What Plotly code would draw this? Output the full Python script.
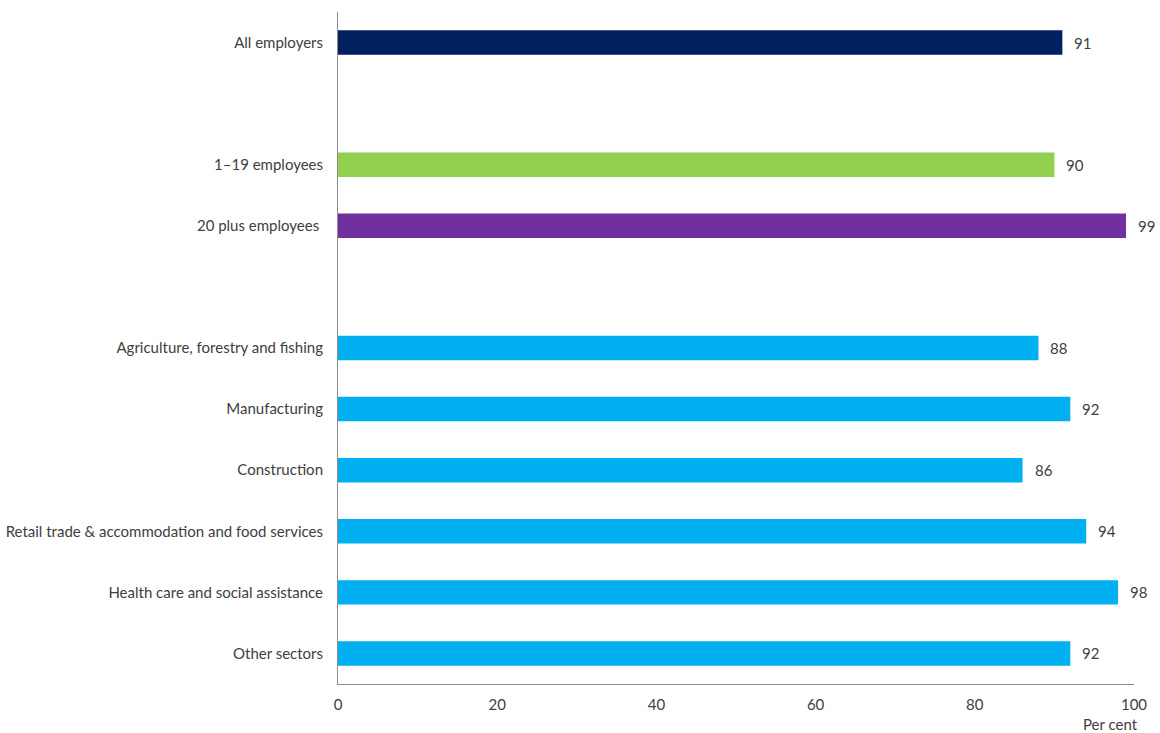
import plotly.graph_objects as go

# Categories in display order (top to bottom); empty strings are spacer rows between groups
categories = [
    "All employers",
    "",
    "1–19 employees",
    "20 plus employees ",
    "",
    "Agriculture, forestry and fishing",
    "Manufacturing",
    "Construction",
    "Retail trade & accommodation and food services",
    "Health care and social assistance",
    "Other sectors",
]
values = [91, None, 90, 99, None, 88, 92, 86, 94, 98, 92]
colors = ["#002060", "#FFFFFF", "#92D050", "#7030A0", "#FFFFFF",
          "#00B0F0", "#00B0F0", "#00B0F0", "#00B0F0", "#00B0F0", "#00B0F0"]
x_ticks = [0, 20, 40, 60, 80, 100]

FONT = "Lato, 'Open Sans', sans-serif"
TEXT = "#404040"
SIZE = 15

positions = list(range(len(categories)))
bar_pos = [p for p, v in zip(positions, values) if v is not None]
bar_val = [v for v in values if v is not None]
bar_col = [c for c, v in zip(colors, values) if v is not None]

fig = go.Figure(
    go.Bar(
        x=bar_val,
        y=bar_pos,
        orientation="h",
        marker=dict(color=bar_col, line=dict(width=0)),
        width=0.4,
        hoverinfo="skip",
    )
)

# Value labels just to the right of each bar
for p, v in zip(bar_pos, bar_val):
    fig.add_annotation(
        x=v, y=p, xref="x", yref="y",
        text=str(v), showarrow=False,
        xanchor="left", xshift=10,
        font=dict(family=FONT, size=SIZE, color=TEXT),
    )

fig.add_annotation(
    x=1.0, y=-0.06, xref="paper", yref="paper",
    text="Per cent", showarrow=False,
    xanchor="center", yanchor="middle", xshift=-24,
    font=dict(family=FONT, size=SIZE, color=TEXT),
)

fig.update_layout(
    width=1160,
    height=733,
    margin=dict(l=338, r=26, t=12, b=49),
    paper_bgcolor="white",
    plot_bgcolor="white",
    showlegend=False,
    font=dict(family=FONT, size=SIZE, color=TEXT),
    xaxis=dict(
        range=[0, 100],
        tickvals=x_ticks,
        showgrid=False,
        zeroline=False,
        showline=True,
        linecolor="#8C8C8C",
        linewidth=1,
        ticks="",
        ticklabelstandoff=7,
        tickfont=dict(family=FONT, size=SIZE, color=TEXT),
        fixedrange=True,
        automargin=False,
    ),
    yaxis=dict(
        range=[len(categories) - 0.5, -0.5],
        tickvals=positions,
        ticktext=categories,
        showgrid=False,
        zeroline=False,
        showline=True,
        linecolor="#8C8C8C",
        linewidth=1,
        ticks="",
        ticklabelstandoff=11,
        tickfont=dict(family=FONT, size=SIZE, color=TEXT),
        fixedrange=True,
        automargin=False,
    ),
)

fig.write_html("out.html")
